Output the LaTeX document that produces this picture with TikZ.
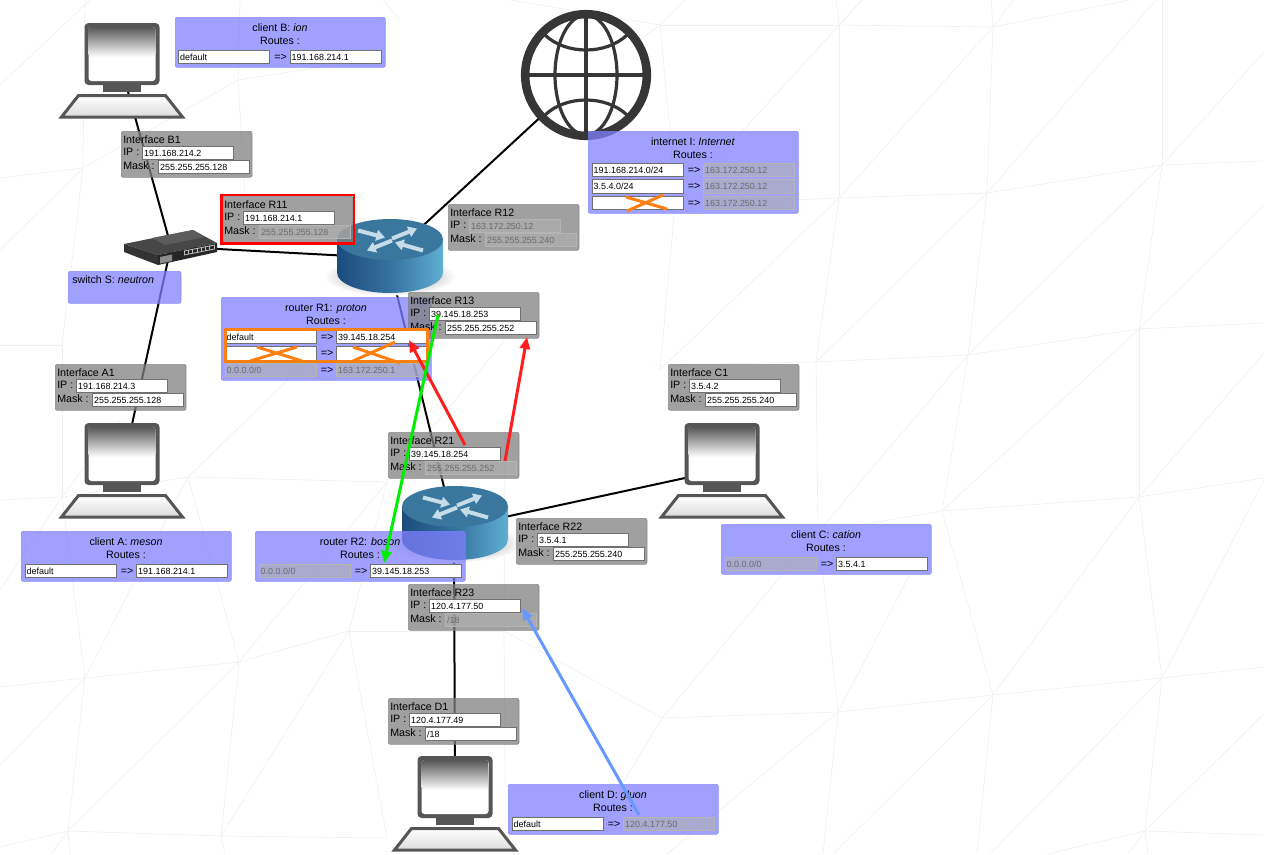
\documentclass[tikz,border=0pt]{standalone}
\usepackage{fontspec}
\setmainfont{Liberation Sans}
\usepackage{tikz}
\usetikzlibrary{arrows.meta, fit}
\definecolor{ifgrey}{HTML}{808080}
\definecolor{rtblue}{HTML}{8080FF}
\definecolor{fldgrey}{HTML}{707070}
\definecolor{pcgrey}{HTML}{565656}
\definecolor{globegrey}{HTML}{363636}
\definecolor{xorange}{HTML}{FF8010}
\definecolor{arrred}{HTML}{FF1E1E}
\definecolor{arrgreen}{HTML}{00EE00}
\definecolor{arrblue}{HTML}{6699FF}
\definecolor{rtleft}{HTML}{1C4B7E}
\definecolor{rtmid}{HTML}{35729F}
\definecolor{rtright}{HTML}{5FAED3}
\definecolor{rttop}{HTML}{3A779E}
\definecolor{rtarrow}{HTML}{C6DCE8}
\newcommand{\lblfont}{\fontsize{8}{9.5}\selectfont}
\newcommand{\fldfont}{\fontsize{6.7}{8}\selectfont}
% name, x, y, title, ip, mask, ip style, mask style
\newcommand{\ifacebox}[8]{
  \node[iface] (#1) at (#2,#3) {};
  \node[lbl] (#1-t) at (#2+2,#3+8.8) {#4};
  \node[lbl] (#1-il) at (#2+2,#3+20.8) {IP :};
  \node[lbl] (#1-ml) at (#2+2,#3+34.3) {Mask :};
  \node[#7] (#1-ip) at (#2+21,#3+14.5) {#5};
  \node[#8] (#1-mask) at (#2+37,#3+28.5) {#6};
}
% name, x, y, height, title
\newcommand{\routebox}[5]{
  \node[rtbox, minimum height=#4*0.75pt] (#1) at (#2,#3) {};
  \node[lbl, anchor=center] (#1-t) at (#2+105,#3+10.3) {#5};
  \node[lbl, anchor=center] (#1-r) at (#2+105,#3+24) {Routes :};
}
% name, x, y, left style, left, right style, right
\newcommand{\routerow}[7]{
  \node[#4] (#1-l) at (#2+3.5,#3) {#5};
  \node[lbl, anchor=center] (#1-a) at (#2+106,#3+6.7) {=>};
  \node[#6] (#1-r) at (#2+115,#3) {#7};
}
\begin{document}
\begin{tikzpicture}[
    x=0.75pt, y=-0.75pt,
    mesh/.style={draw=black!6, line width=0.5pt},
    wire/.style={line width=1.5pt, black},
    iface/.style={anchor=north west, draw=ifgrey, fill=ifgrey, line width=0.5pt,
                  fill opacity=0.75, draw opacity=0.85, rounded corners=1.5pt,
                  inner sep=0pt, minimum width=98pt, minimum height=34.5pt},
    rtbox/.style={iface, draw=rtblue, fill=rtblue, minimum width=157.5pt},
    lbl/.style={anchor=west, inner sep=0pt, font=\lblfont, text height=5.8pt, text depth=0pt},
    fld/.style={anchor=north west, draw=fldgrey, line width=0.75pt, fill=white,
                inner sep=0pt, minimum width=68.6pt, minimum height=10pt,
                text width=66pt, align=left, font=\fldfont,
                text height=5pt, text depth=0pt},
    dis/.style={fld, draw=black!29, fill=black!31, fill opacity=0.6,
                text opacity=1, text=black!58},
    hlred/.style={draw=red, line width=2pt, inner xsep=0.6pt, inner ysep=0.8pt},
    hlorange/.style={draw=xorange, line width=2.25pt, inner xsep=-1pt, inner ysep=0.5pt},
    cross/.style={draw=xorange, line width=2.25pt},
    arr/.style={-{Triangle[length=9pt,width=7.5pt]}, line width=2.25pt},
    rtarr/.style={-{Triangle[length=6.5pt,width=8pt]}, line width=3pt, rtarrow},
    computer/.pic={
      \fill[pcgrey, rounded corners=3pt] (-37.5,0) rectangle (37.5,62);
      \fill[white, rounded corners=2.2pt] (-33.5,4) rectangle (33.5,58);
      \shade[top color=pcgrey, bottom color=white, rounded corners=2.2pt] (-33.5,4) rectangle (33.5,34);
      \fill[pcgrey] (-19,62) rectangle (19,69);
      \draw[pcgrey, line width=2.25pt, top color=white, bottom color=black!14]
        (-60.5,94) -- (-43.5,72.5) -- (43.5,72.5) -- (60.5,94) -- cycle;
    },
    router/.pic={
      \shade[inner color=black!50, outer color=white, draw=none] (0,37) ellipse [x radius=66, y radius=19];
      \shade[left color=rtleft, right color=rtright, middle color=rtmid]
        (-53,0) -- (-53,33) arc [start angle=180, end angle=360, x radius=53, y radius=-20.5] -- (53,0) -- cycle;
      \fill[rttop] (0,0) ellipse [x radius=53, y radius=20.5];
      \draw[rtarr] (-32,-9) -- (-5,-2);
      \draw[rtarr] (2,-1) -- (27,-11);
      \draw[rtarr] (2,1) -- (-23,11);
      \draw[rtarr] (33,11) -- (5,3);
    },
]
\useasboundingbox (0,0) rectangle (1264,854);

\foreach \xa/\ya/\xb/\yb in {
    839/25/993/27, 839/25/836/0, 839/25/862/0, 839/25/660/25, 660/25/510/0, 660/25/685/0,
    660/25/670/130, 670/130/675/205, 660/25/590/75, 993/27/991/0, 993/27/1013/0, 993/27/1130/0,
    839/25/839/198, 800/68/862/0, 993/27/839/198, 1156/0/987/193, 1162/0/1162/165,
    1264/52/1162/165, 1162/165/1264/161, 1162/165/968/355, 987/193/816/362, 1264/205/1139/329,
    1139/329/1264/323, 1264/353/1139/497, 993/27/987/193, 987/193/968/355, 1162/165/1139/329,
    839/198/816/362, 839/198/987/193, 987/193/1162/165, 816/362/968/355, 968/355/1139/329,
    839/198/675/205, 800/68/675/205, 839/198/660/370, 675/205/660/370, 816/362/655/365,
    816/362/818/532, 968/355/818/532, 968/355/942/511, 1139/329/942/511, 1139/329/1139/497,
    942/511/1139/497, 1139/497/1264/478, 942/511/818/532, 942/511/993/695, 1139/497/993/695,
    1139/497/1162/678, 1264/480/1162/678, 1162/678/1264/667, 993/695/1162/678, 993/695/838/712,
    838/712/818/532, 838/712/910/574, 993/695/833/854, 993/695/977/854, 1162/678/990/854,
    1162/678/1145/831, 1264/714/1145/831, 1145/831/1264/835, 1145/831/1047/854, 1145/831/1128/854,
    1145/831/1148/854, 838/712/823/854, 662/718/838/712, 662/718/818/532, 662/718/623/783,
    838/712/667/854, 504/631/662/718, 504/631/505/430, 504/631/505/784, 349/631/504/631,
    85/678/239/662, 239/662/349/631, 85/678/0/687, 85/678/0/765, 239/662/68/831, 239/662/221/836,
    85/678/68/831, 349/631/221/836, 349/631/387/838, 68/831/221/836, 221/836/387/838,
    68/831/0/847, 68/831/51/854, 68/831/70/854, 221/836/225/854, 188/477/239/662, 188/477/85/678,
    62/497/85/678, 387/482/349/631, 387/482/239/662, 188/477/387/482, 188/477/62/497, 62/497/0/500,
    62/497/62/345, 62/497/0/590, 62/497/120/420, 188/477/370/300, 387/482/505/340,
    0/85/90/0, 85/0/83/168, 0/178/83/168, 83/168/0/250, 238/80/240/0, 238/80/385/57,
    238/80/245/193, 238/80/83/168, 383/0/400/20, 83/168/62/345, 0/345/62/345
} {
  \draw[mesh] (\xa,\ya) -- (\xb,\yb);
}

\coordinate (clientB) at (122,70);
\coordinate (clientA) at (122,470);
\coordinate (clientC) at (722,470);
\coordinate (clientD) at (455,800);
\coordinate (switchS) at (171,246.5);
\coordinate (routerR1) at (388,258);
\coordinate (routerR2) at (454,528);
\coordinate (internetI) at (586,75);

\draw[wire] (clientB) -- (switchS);
\draw[wire] (switchS) -- (clientA);
\draw[wire] (switchS) -- (routerR1);
\draw[wire] (routerR1) -- (internetI);
\draw[wire] (routerR1) -- (routerR2);
\draw[wire] (routerR2) -- (clientC);
\draw[wire] (routerR2) -- (clientD);

\path (122,23) pic {computer};
\path (122,423) pic {computer};
\path (722,423) pic {computer};
\path (455,756) pic {computer};
\path (390,239.5) pic {router};
\path (455,506.5) pic {router};

\draw[globegrey, line width=6.4pt, fill=white] (internetI) circle [radius=60.8];
\draw[globegrey, line width=2.4pt] (internetI) ellipse [x radius=31, y radius=60];
\draw[globegrey, line width=3pt] (586,14) -- (586,136);
\draw[globegrey, line width=3pt] (525,75) -- (647,75);
\draw[globegrey, line width=2.4pt] (545,35) .. controls (566,55) and (606,55) .. (627,35);
\draw[globegrey, line width=2.4pt] (545,115) .. controls (566,95) and (606,95) .. (627,115);

\fill[black!72] (124,244) -- (193,230) -- (217,243) -- (158,255) -- cycle;
\fill[black!64] (152,238) -- (193,230) -- (205,237) -- (165,245) -- cycle;
\fill[black!80] (124,244) -- (158,255) -- (158,265) -- (124,252) -- cycle;
\fill[black!85] (158,255) -- (217,243) -- (217,252) -- (158,265) -- cycle;
\fill[black!45] (160,257) -- (172,254.5) -- (172,261) -- (160,263.5) -- cycle;
\draw[black!25, line width=0.6pt] (184,251) -- (214.5,245);
\draw[black!25, line width=0.6pt] (184,255) -- (214.5,249);
\foreach \k in {0,...,7} {
  \draw[black!25, line width=0.6pt] (184+\k*4.3,251-\k*0.85) -- ++(0,4);
}

\routebox{clientbB}{175}{17}{50}{client B: \textit{ion}}
\routerow{clientbBa}{174.5}{50}{fld}{default}{fld}{191.168.214.1}
\routebox{clientbA}{21}{531}{50}{client A: \textit{meson}}
\routerow{clientbAa}{21}{563.5}{fld}{default}{fld}{191.168.214.1}
\routebox{clientbC}{721}{524}{50}{client C: \textit{cation}}
\routerow{clientbCa}{721}{556.5}{dis}{0.0.0.0/0}{fld}{3.5.4.1}
\routebox{clientbD}{508}{784}{50}{client D: \textit{gluon}}
\routerow{clientbDa}{508}{816.5}{fld}{default}{dis}{120.4.177.50}
\routebox{routerb2}{255}{531}{50}{router R2: \textit{boson}}
\routerow{routerb2a}{255}{563.5}{dis}{0.0.0.0/0}{fld}{39.145.18.253}
\routebox{internetb}{588}{131}{82}{internet I: \textit{Internet}}
\routerow{internetba}{588}{163}{fld}{191.168.214.0/24}{dis}{163.172.250.12}
\routerow{internetbb}{588}{179.3}{fld}{3.5.4.0/24}{dis}{163.172.250.12}
\routerow{internetbc}{588}{196}{fld}{}{dis}{163.172.250.12}
\routebox{routerb1}{221}{297}{83}{router R1: \textit{proton}}
\node[rtbox, minimum width=84.5pt, minimum height=24pt] (switchb) at (68,271) {};
\node[lbl] (switchb-t) at (72,280) {switch S: \textit{neutron}};

\ifacebox{B1}{121}{131}{Interface B1}{191.168.214.2}{255.255.255.128}{fld}{fld}
\ifacebox{R11}{222}{196}{Interface R11}{191.168.214.1}{255.255.255.128}{fld}{dis}
\ifacebox{R12}{448}{204}{Interface R12}{163.172.250.12}{255.255.255.240}{dis}{dis}
\ifacebox{R13}{408}{292}{Interface R13}{39.145.18.253}{255.255.255.252}{fld}{fld}
\ifacebox{R21}{388}{432}{Interface R21}{39.145.18.254}{255.255.255.252}{fld}{dis}
\ifacebox{R22}{516}{518}{Interface R22}{3.5.4.1}{255.255.255.240}{fld}{fld}
\ifacebox{R23}{408}{584}{Interface R23}{120.4.177.50}{/18}{fld}{dis}
\ifacebox{D1}{388}{698}{Interface D1}{120.4.177.49}{/18}{fld}{fld}
\ifacebox{A1}{55}{364}{Interface A1}{191.168.214.3}{255.255.255.128}{fld}{fld}
\ifacebox{C1}{668}{364}{Interface C1}{3.5.4.2}{255.255.255.240}{fld}{fld}

\routerow{routerb1a}{221}{330}{fld}{default}{fld}{39.145.18.254}
\routerow{routerb1b}{221}{346.3}{fld}{}{fld}{}
\routerow{routerb1c}{221}{362.5}{dis}{0.0.0.0/0}{dis}{163.172.250.1}

\node[hlred, fit=(R11)] (R11-hl) {};
\node[hlorange, fit=(routerb1a-l)(routerb1b-r)] (routerb1-hl) {};

\draw[cross] (257,347) -- (302,361);
\draw[cross] (297,347) -- (250,361);
\draw[cross] (353,347) -- (400,363);
\draw[cross] (395,342) -- (353,361);
\draw[cross] (627,211) -- (663,195);
\draw[cross] (626,197) -- (667,209);

\coordinate (redaTail) at (465,445);
\coordinate (redaTip) at (409,340);
\coordinate (redbTail) at (505,461);
\coordinate (redbTip) at (527,337);
\coordinate (greenTail) at (438,315);
\coordinate (greenTip) at (384,563);
\coordinate (blueTail) at (639,815);
\coordinate (blueTip) at (522,608);

\draw[arr, arrred] (redaTail) -- (redaTip);
\draw[arr, arrred] (redbTail) -- (redbTip);
\draw[arr, arrgreen] (greenTail) -- (greenTip);
\draw[arr, arrblue] (blueTail) -- (blueTip);

\end{tikzpicture}
\end{document}
